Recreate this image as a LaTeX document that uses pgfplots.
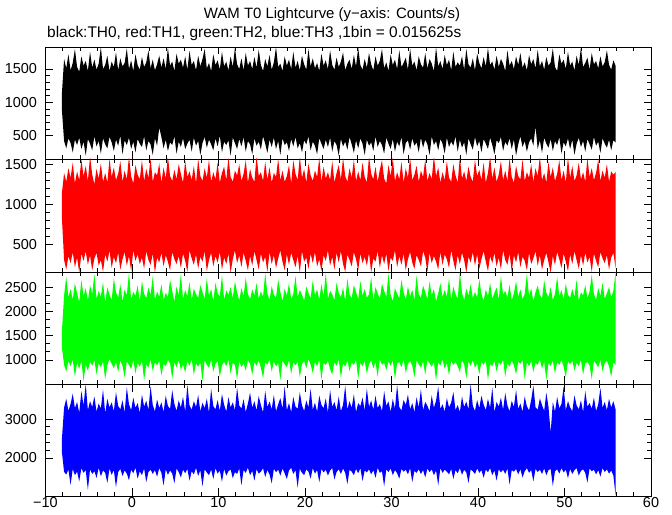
\documentclass[border=0pt]{standalone}
\usepackage{fontspec}
\setmainfont{Liberation Sans}
\usepackage{pgfplots}
\usepackage{pgfplotstable}
\pgfplotsset{compat=1.18}
\usepgfplotslibrary{fillbetween}
\definecolor{wred}{RGB}{255,0,0}
\definecolor{wgreen}{RGB}{0,255,0}
\definecolor{wblue}{RGB}{0,0,255}
\pgfplotstableread{
x u0 l0 u1 l1 u2 l2 u3 l3
-8.1 1140 880 1140 820 1600 1250 2500 2150
-7.85 1650 420 1390 300 2330 900 3300 1640
-7.6 1510 310 1280 180 2710 760 3520 1580
-7.35 1720 460 1450 350 2290 980 3210 1700
-7.1 1480 390 1330 260 2460 870 3390 1310
-6.85 1590 250 1520 400 2240 1010 3650 1720
-6.6 1800 440 1260 210 2580 650 3280 1560
-6.35 1530 360 1410 330 2370 940 3440 1650
-6.1 1460 470 1300 140 2190 820 3160 1400
-5.85 1690 300 1560 380 2650 990 3720 1740
-5.6 1550 410 1350 290 2310 560 3350 1620
-5.35 1620 200 1480 410 2480 910 3900 1690
-5.1 1470 450 1290 240 2220 780 3230 1180
-4.85 1760 380 1600 360 2540 960 3460 1710
-4.6 1520 280 1370 170 2350 880 3310 1590
-4.35 1640 490 1250 320 2770 1000 3580 1660
-4.1 1490 340 1440 390 2260 700 3190 1490
-3.85 1580 420 1320 230 2420 930 3400 1750
-3.6 1830 230 1510 300 2300 850 3270 1530
-3.35 1500 460 1280 150 2600 970 3760 1680
-3.1 1560 370 1390 370 2180 600 3150 1620
-2.85 1700 310 1270 280 2500 890 3520 1360
-2.6 1470 480 1570 420 2340 1020 3300 1730
-2.35 1610 400 1340 200 2230 920 3430 1570
-2.1 1530 270 1460 340 2680 830 3200 1690
-1.85 1750 440 1300 260 2390 960 3690 1250
-1.6 1480 350 1380 390 2280 750 3340 1640
-1.35 1660 500 1540 180 2560 990 3250 1720
-1.1 1540 220 1280 310 2200 880 3480 1540
-0.85 1590 430 1420 400 2450 640 3170 1680
-0.6 1810 360 1310 230 2330 970 3820 1600
-0.35 1500 470 1600 350 2810 900 3380 1430
-0.1 1630 300 1350 160 2250 810 3230 1700
0.15 1470 410 1260 420 2400 1000 3550 1610
0.4 1720 250 1490 290 2320 720 3290 1750
0.65 1560 450 1370 370 2530 940 3410 1470
0.9 1490 380 1310 250 2210 860 3160 1660
1.15 1680 330 1550 330 2620 980 3630 1560
1.4 1530 490 1290 190 2360 580 3320 1730
1.65 1600 280 1440 410 2270 910 3470 1380
1.9 1780 420 1330 300 2490 840 3240 1640
2.15 1510 370 1580 240 2340 1010 3850 1700
2.4 1640 210 1280 380 2720 770 3360 1590
2.65 1480 460 1400 140 2240 950 3200 1690
2.9 1570 350 1360 330 2410 890 3500 1520
3.15 1700 620 1510 270 2300 980 3280 1740
3.4 1520 480 1270 390 2560 680 3430 1620
3.65 1660 310 1460 220 2230 920 3180 1290
3.9 1500 440 1320 360 2380 870 3600 1710
4.15 1820 270 1600 280 2290 1000 3340 1570
4.4 1550 400 1350 170 2650 930 3260 1680
4.65 1610 360 1290 400 2420 610 3740 1600
4.9 1470 490 1430 310 2200 960 3390 1350
5.15 1730 230 1310 250 2510 850 3210 1730
5.4 1580 410 1500 350 2330 990 3480 1640
5.65 1640 330 1380 200 2780 800 3300 1500
5.9 1520 460 1270 380 2260 910 3570 1700
6.15 1690 300 1540 290 2440 740 3190 1610
6.4 1490 380 1340 150 2310 970 3880 1720
6.65 1770 440 1410 420 2600 880 3350 1420
6.9 1560 260 1300 320 2230 1020 3240 1660
7.15 1620 470 1480 240 2470 690 3460 1580
7.4 1480 350 1260 370 2350 930 3310 1750
7.65 1700 420 1570 190 2280 860 3620 1540
7.9 1540 210 1350 340 2540 950 3200 1690
8.15 1650 390 1290 280 2400 570 3420 1270
8.4 1800 480 1450 410 2250 990 3280 1710
8.65 1510 320 1330 160 2690 900 3530 1630
8.9 1590 440 1560 300 2320 840 3170 1560
9.15 1470 370 1280 390 2460 1000 3780 1700
9.4 1720 280 1400 220 2210 760 3330 1460
9.65 1560 460 1310 350 2590 920 3250 1740
9.9 1630 340 1520 270 2370 980 3490 1600
10.15 1490 500 1270 400 2300 650 3210 1680
10.4 1760 250 1390 180 2750 890 3640 1390
10.65 1540 410 1470 330 2240 960 3370 1720
10.9 1610 360 1300 250 2430 870 3190 1550
11.15 1480 430 1590 380 2340 1010 3560 1660
11.4 1690 200 1340 140 2500 720 3300 1710
11.65 1530 470 1280 310 2270 940 3430 1480
11.9 1820 390 1420 420 2620 900 3230 1640
12.15 1570 300 1360 260 2390 600 3810 1590
12.4 1500 450 1500 360 2220 980 3350 1730
12.65 1660 340 1290 210 2480 850 3270 1300
12.9 1480 480 1380 390 2310 930 3510 1690
13.15 1740 260 1550 290 2700 780 3180 1620
13.4 1550 420 1270 170 2350 1000 3400 1750
13.65 1620 370 1440 350 2250 920 3680 1560
13.9 1500 220 1330 230 2450 690 3290 1670
14.15 1680 460 1280 410 2330 960 3460 1420
14.4 1520 350 1610 300 2580 880 3220 1710
14.65 1790 410 1350 180 2260 990 3590 1600
14.9 1560 290 1400 380 2410 840 3360 1650
15.15 1470 490 1290 270 2300 620 3170 1740
15.4 1650 380 1530 340 2790 950 3730 1510
15.65 1540 240 1310 150 2370 900 3310 1690
15.9 1710 440 1460 400 2230 1010 3450 1580
16.15 1490 330 1270 250 2520 760 3250 1350
16.4 1600 470 1390 360 2340 970 3620 1720
16.65 1830 300 1340 200 2280 870 3200 1640
16.9 1530 420 1570 320 2660 930 3380 1700
17.15 1580 210 1300 420 2400 580 3540 1550
17.4 1470 460 1420 280 2210 990 3270 1730
17.65 1690 360 1280 170 2470 910 3840 1610
17.9 1550 400 1350 370 2320 850 3230 1460
18.15 1640 270 1490 240 2580 1000 3410 1680
18.4 1500 450 1260 390 2250 710 3180 1750
18.65 1760 340 1550 300 2360 950 3570 1590
18.9 1520 480 1380 210 2730 890 3320 1690
19.15 1620 310 1300 350 2290 970 3260 1240
19.4 1480 390 1600 140 2440 640 3690 1720
19.65 1700 250 1330 410 2340 920 3350 1620
19.9 1570 430 1440 280 2220 980 3210 1560
20.15 1490 370 1270 330 2510 830 3480 1710
20.4 1800 490 1510 190 2380 1020 3300 1650
20.65 1540 280 1360 380 2270 900 3780 1470
20.9 1660 410 1290 260 2640 730 3240 1740
21.15 1510 350 1420 400 2330 960 3420 1600
21.4 1590 220 1340 220 2450 870 3190 1690
21.65 1470 460 1580 310 2240 1000 3600 1380
21.9 1730 380 1280 160 2560 590 3360 1720
22.15 1550 300 1470 360 2310 940 3280 1630
22.4 1630 440 1320 290 2800 900 3530 1700
22.65 1500 330 1400 420 2260 980 3170 1550
22.9 1780 470 1300 230 2420 810 3750 1680
23.15 1560 260 1540 340 2350 700 3310 1740
23.4 1490 420 1270 180 2230 960 3440 1450
23.65 1670 360 1390 390 2590 880 3230 1640
23.9 1530 200 1490 270 2380 1010 3580 1710
24.15 1610 450 1310 410 2290 630 3200 1590
24.4 1750 340 1580 250 2490 930 3370 1730
24.65 1480 410 1350 150 2210 860 3860 1620
24.9 1580 290 1280 370 2680 990 3250 1330
25.15 1640 480 1450 300 2340 770 3460 1700
25.4 1500 370 1330 220 2270 950 3290 1650
25.65 1710 240 1560 400 2540 900 3640 1560
25.9 1540 430 1290 310 2400 1000 3180 1720
26.15 1820 310 1410 170 2250 610 3410 1610
26.4 1560 460 1300 380 2620 940 3330 1740
26.65 1490 380 1520 260 2320 870 3550 1410
26.9 1650 210 1340 340 2460 980 3220 1680
27.15 1520 440 1270 230 2280 720 3790 1630
27.4 1740 350 1600 390 2350 910 3310 1710
27.65 1570 400 1380 140 2710 990 3480 1580
27.9 1480 270 1310 320 2230 830 3240 1690
28.15 1690 490 1470 280 2500 960 3600 1490
28.4 1550 330 1280 410 2370 650 3280 1750
28.65 1620 420 1430 200 2260 1010 3390 1620
28.9 1800 360 1550 360 2570 900 3200 1660
29.15 1510 230 1320 250 2420 940 3720 1270
29.4 1600 470 1260 380 2290 790 3340 1710
29.65 1470 380 1490 160 2790 970 3450 1640
29.9 1720 300 1350 330 2340 880 3190 1730
30.15 1560 450 1580 290 2210 1000 3520 1560
30.4 1640 260 1290 420 2480 600 3270 1690
30.65 1500 410 1400 210 2360 930 3880 1610
30.9 1780 340 1310 350 2270 960 3310 1470
31.15 1530 480 1530 240 2650 850 3220 1720
31.4 1590 220 1270 380 2390 1010 3490 1650
31.65 1670 390 1450 170 2240 730 3360 1700
31.9 1490 430 1330 310 2510 920 3630 1580
32.15 1810 290 1590 400 2310 980 3250 1740
32.4 1550 460 1300 270 2440 880 3410 1380
32.65 1610 350 1370 190 2230 640 3180 1670
32.9 1480 400 1480 360 2740 990 3560 1620
33.15 1690 250 1280 300 2350 910 3300 1710
33.4 1570 470 1420 220 2280 840 3770 1590
33.65 1520 320 1340 410 2530 970 3230 1690
33.9 1740 440 1560 330 2400 700 3440 1500
34.15 1510 370 1290 150 2250 1000 3340 1730
34.4 1650 210 1390 390 2620 930 3200 1640
34.65 1580 490 1310 260 2330 860 3610 1710
34.9 1470 360 1610 350 2460 960 3290 1560
35.15 1830 420 1350 280 2210 570 3470 1680
35.4 1540 280 1460 180 2370 950 3830 1300
35.65 1620 450 1270 400 2580 890 3260 1740
35.9 1500 380 1400 240 2290 1010 3380 1620
36.15 1710 230 1300 370 2440 820 3190 1700
36.4 1560 470 1540 310 2300 940 3540 1650
36.65 1640 330 1330 200 2690 680 3300 1580
36.9 1480 410 1280 420 2240 980 3420 1720
37.15 1760 350 1500 290 2510 900 3700 1460
37.4 1530 490 1360 170 2350 960 3230 1690
37.65 1600 260 1270 360 2260 870 3360 1610
37.9 1550 440 1590 250 2800 750 3180 1740
38.15 1690 320 1320 390 2380 990 3580 1570
38.4 1490 400 1410 300 2230 910 3310 1700
38.65 1800 210 1290 140 2470 620 3450 1630
38.9 1570 460 1470 340 2320 970 3250 1360
39.15 1520 370 1340 270 2560 880 3900 1710
39.4 1660 290 1280 400 2270 1000 3340 1660
39.65 1480 480 1560 230 2400 840 3210 1590
39.9 1730 340 1350 370 2290 930 3490 1730
40.15 1590 420 1430 190 2660 710 3280 1620
40.4 1510 250 1300 310 2350 960 3600 1690
40.65 1680 450 1520 410 2220 900 3370 1490
40.9 1540 380 1270 280 2450 990 3230 1700
41.15 1820 300 1390 160 2310 580 3520 1640
41.4 1560 470 1600 350 2590 920 3290 1740
41.65 1610 360 1320 260 2260 870 3810 1560
41.9 1490 220 1460 390 2380 980 3180 1680
42.15 1700 430 1280 220 2490 760 3440 1420
42.4 1530 390 1370 330 2240 950 3320 1710
42.65 1650 480 1540 180 2730 900 3550 1630
42.9 1580 270 1300 420 2340 1010 3240 1700
43.15 1470 410 1420 300 2420 650 3670 1590
43.4 1780 350 1290 240 2290 930 3350 1730
43.65 1550 460 1580 380 2550 860 3200 1320
43.9 1620 300 1340 150 2230 990 3470 1690
44.15 1500 440 1270 360 2370 890 3310 1650
44.4 1690 200 1480 270 2620 700 3750 1720
44.65 1560 370 1350 400 2300 970 3260 1580
44.9 1740 490 1310 210 2450 920 3400 1710
45.15 1520 330 1560 340 2250 1000 3190 1500
45.4 1600 420 1290 290 2360 610 3580 1660
45.65 1480 260 1400 170 2780 950 3330 1740
45.9 1710 400 1330 390 2320 870 3220 1620
46.15 1570 460 1500 250 2470 980 3490 1690
46.4 1650 350 1280 320 2210 750 3860 1400
46.65 1510 640 1450 410 2400 940 3300 1720
46.9 1790 300 1350 230 2530 900 3240 1640
47.15 1540 430 1600 360 2340 1010 3530 1700
47.4 1620 240 1300 180 2260 820 3360 1590
47.65 1490 470 1390 300 2640 960 3210 1730
47.9 1680 380 1270 390 2380 590 3680 1560
48.15 1550 320 1530 270 2290 930 3310 1690
48.4 1600 450 1340 140 2500 880 2650 1720
48.65 1810 270 1460 350 2230 990 3440 1280
48.9 1530 420 1290 240 2360 720 3190 1660
49.15 1470 360 1380 400 2710 950 3570 1710
49.4 1720 480 1550 310 2310 900 3280 1600
49.65 1580 230 1300 200 2440 1000 3390 1740
49.9 1640 400 1420 380 2250 860 3840 1630
50.15 1500 340 1270 280 2570 640 3230 1700
50.4 1760 460 1590 160 2340 970 3460 1480
50.65 1550 300 1330 370 2280 910 3300 1720
50.9 1610 440 1480 250 2460 990 3200 1590
51.15 1480 210 1290 410 2300 780 3610 1690
51.4 1700 380 1360 300 2650 940 3350 1740
51.65 1560 470 1520 190 2220 870 3250 1550
51.9 1820 330 1310 360 2390 1000 3480 1670
52.15 1530 420 1400 230 2330 700 3180 1710
52.4 1590 260 1280 390 2540 930 3720 1620
52.65 1670 450 1580 270 2270 960 3320 1370
52.9 1490 370 1340 340 2410 890 3410 1730
53.15 1740 290 1450 150 2760 600 3270 1660
53.4 1570 480 1300 380 2350 980 3550 1700
53.65 1620 350 1390 290 2240 920 3210 1580
53.9 1510 410 1560 210 2480 850 3380 1690
54.15 1690 240 1290 400 2320 1000 3800 1520
54.4 1540 460 1420 320 2590 760 3290 1740
54.65 1600 380 1330 260 2260 940 3440 1640
54.9 1780 320 1500 360 2370 980 3230 1710
55.15 1560 440 1280 180 2500 870 3520 1600
55.4 1490 280 1410 330 2290 650 3300 1680
55.65 1630 430 1370 390 2420 950 3460 1550
55.9 1550 400 1400 200 2810 900 3250 1050
}\lcdata
\pgfplotsset{
  panel/.style={
    scale only axis, width=605.5bp,
    anchor=south west,
    xmin=-10, xmax=60,
    xtick={-10,0,...,60}, minor x tick num=4,
    xticklabels={},
    tick align=inside, xtick pos=both, ytick pos=both,
    major tick length=7.5bp, minor tick length=4bp,
    axis line style={line width=0.9bp},
    every tick/.style={black, line width=0.8bp},
    tick label style={font=\fontsize{14.5}{14.5}\selectfont},
    yticklabel style={xshift=-5bp},
    scaled y ticks=false,
    /pgf/number format/1000 sep={},
    /pgf/number format/assume math mode=true,
  },
}
\begin{document}
\begin{tikzpicture}
\path (0,0) rectangle (672bp,515bp);
\node[anchor=base, font=\fontsize{15}{15}\selectfont] at (332bp,496bp) {WAM T0 Lightcurve (y−axis: Counts/s)};
\node[anchor=base west, inner sep=0pt, font=\fontsize{15.5}{15.5}\selectfont] at (47bp,477bp) {black:TH0, red:TH1, green:TH2, blue:TH3 ,1bin = 0.015625s};
% panel 1 black
\begin{axis}[panel, at={(45.5bp,356bp)}, height=112bp,
  ymin=150, ymax=1830, ytick={500,1000,1500}, minor y tick num=4]
\addplot[draw=none, name path=A] table[x=x, y=u0] {\lcdata};
\addplot[draw=none, name path=B] table[x=x, y=l0] {\lcdata};
\addplot[fill=black, draw=none] fill between[of=A and B];
\end{axis}
% panel 2 red
\begin{axis}[panel, at={(45.5bp,243bp)}, height=113bp,
  ymin=150, ymax=1565, ytick={500,1000,1500}, minor y tick num=4]
\addplot[draw=none, name path=A] table[x=x, y=u1] {\lcdata};
\addplot[draw=none, name path=B] table[x=x, y=l1] {\lcdata};
\addplot[fill=wred, draw=none] fill between[of=A and B];
\end{axis}
% panel 3 green
\begin{axis}[panel, at={(45.5bp,131bp)}, height=112bp,
  ymin=505, ymax=2810, ytick={1000,1500,2000,2500}, minor y tick num=2]
\addplot[draw=none, name path=A] table[x=x, y=u2] {\lcdata};
\addplot[draw=none, name path=B] table[x=x, y=l2] {\lcdata};
\addplot[fill=wgreen, draw=none] fill between[of=A and B];
\end{axis}
% panel 4 blue
\begin{axis}[panel, at={(45.5bp,19bp)}, height=112bp,
  ymin=1025, ymax=3900, ytick={2000,3000}, minor y tick num=4,
  xticklabels={−10,0,10,20,30,40,50,60}, xticklabel style={yshift=2bp}]
\addplot[draw=none, name path=A] table[x=x, y=u3] {\lcdata};
\addplot[draw=none, name path=B] table[x=x, y=l3] {\lcdata};
\addplot[fill=wblue, draw=none] fill between[of=A and B];
\end{axis}
\end{tikzpicture}
\end{document}
